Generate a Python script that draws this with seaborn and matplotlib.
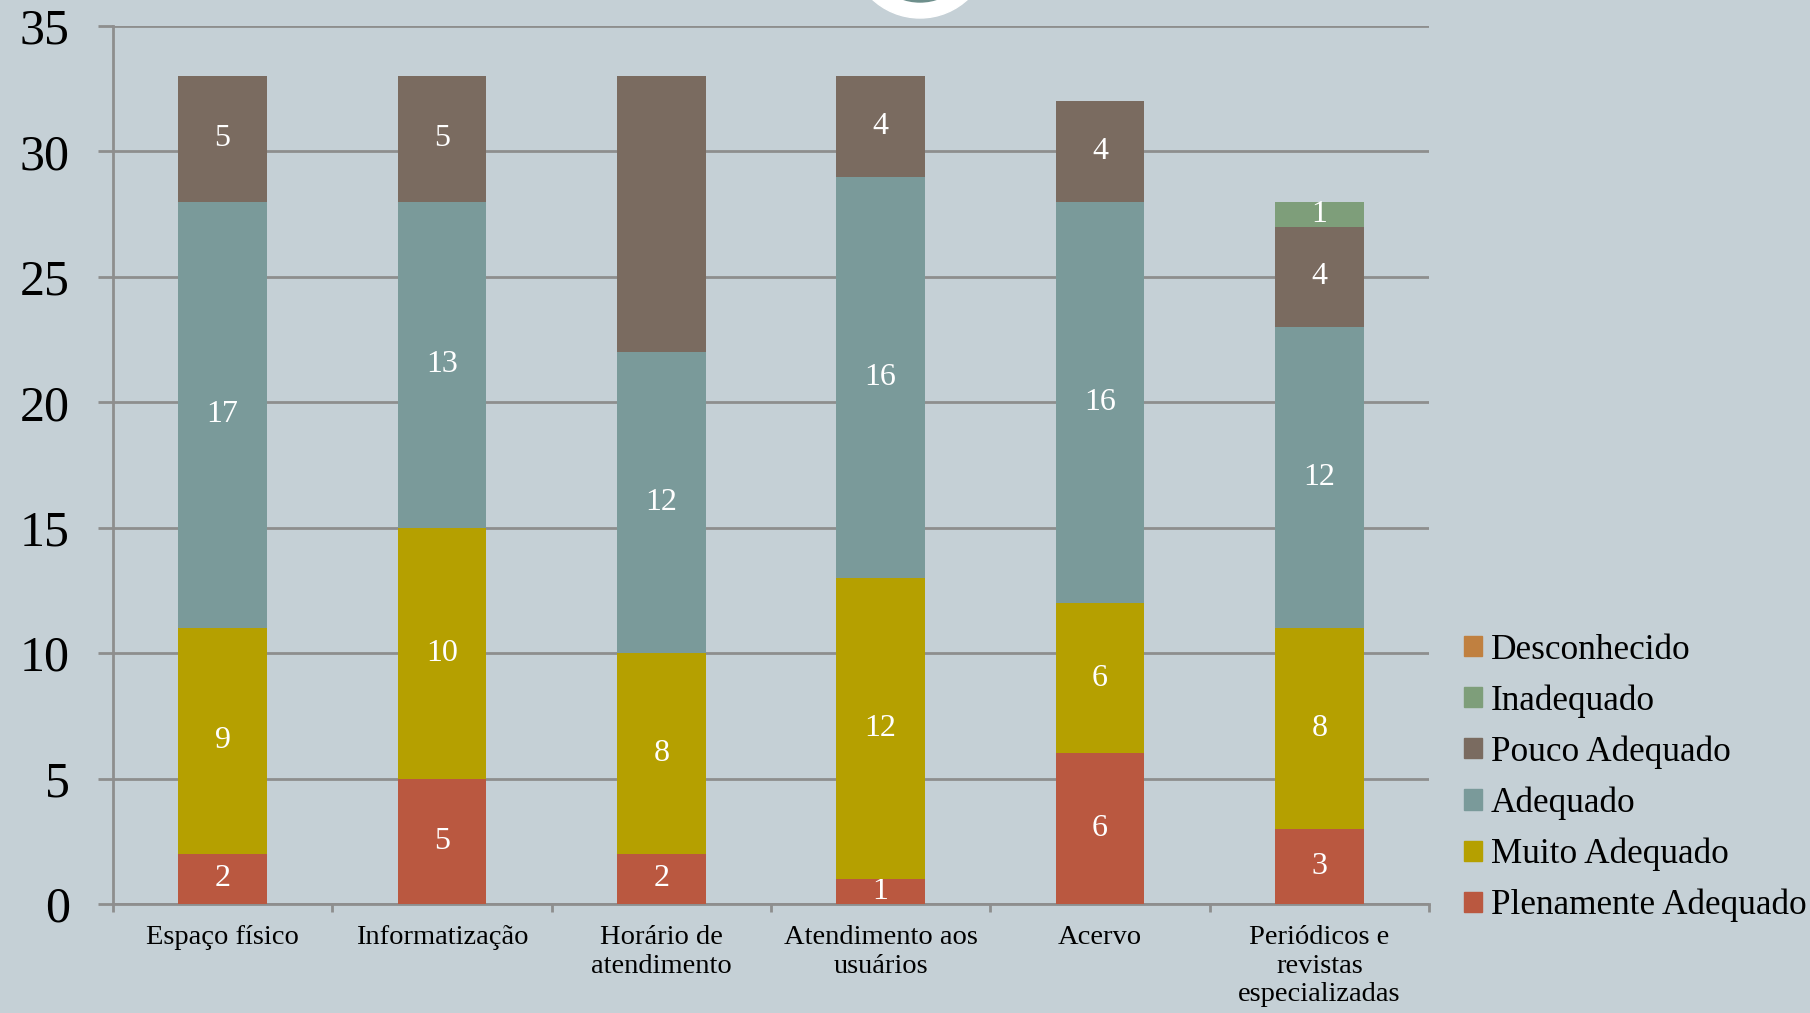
import numpy as np
import matplotlib
matplotlib.use("Agg")
import matplotlib.pyplot as plt
from matplotlib.patches import Circle
from matplotlib.ticker import FixedLocator
import seaborn as sns

# categories and series (bottom to top)
categories = ["Espaço físico", "Informatização", "Horário de\natendimento",
              "Atendimento aos\nusuários", "Acervo",
              "Periódicos e\nrevistas\nespecializadas"]
plenamente = [2, 5, 2, 1, 6, 3]
muito = [9, 10, 8, 12, 6, 8]
adequado = [17, 13, 12, 16, 16, 12]
pouco = [5, 5, 11, 4, 4, 4]
inadequado = [0, 0, 0, 0, 0, 1]
desconhecido = [0, 0, 0, 0, 0, 0]

series_names = ["Plenamente Adequado", "Muito Adequado", "Adequado",
                "Pouco Adequado", "Inadequado", "Desconhecido"]
series_values = [plenamente, muito, adequado, pouco, inadequado, desconhecido]
colors = ["#BA5840", "#B5A000", "#7A9A9A", "#7A6B60", "#7E9E7A", "#C08040"]
# the data label for Horário / Pouco Adequado is not shown in the original
hidden = {("Pouco Adequado", 2)}

y_ticks = [0, 5, 10, 15, 20, 25, 30, 35]

bg = "#C5D0D6"
grid_c = "#8E8E8E"

sns.set_theme(style="white")
plt.rcParams["font.family"] = ["Liberation Serif", "DejaVu Serif"]
plt.rcParams["text.color"] = "black"
plt.rcParams["xtick.labelcolor"] = "black"
plt.rcParams["ytick.labelcolor"] = "black"

fig = plt.figure(figsize=(18.1, 10.13), dpi=100, facecolor=bg)
ax = fig.add_axes([0.0624, 0.1076, 0.7271, 0.8667])
ax.set_facecolor(bg)

# decorative circle at the top
fig.patches.append(Circle((920, 1013 + 52), 70, transform=None, color="white", zorder=0))
fig.patches.append(Circle((920, 1013 + 52), 54, transform=None, color="#6E8F8C", zorder=0))

bottom = np.zeros(len(categories))
handles = []
for name, vals, col in zip(series_names, series_values, colors):
    sns.barplot(x=categories, y=vals, bottom=bottom, color=col, width=0.405,
                ax=ax, saturation=1, linewidth=0, zorder=3)
    cont = ax.containers[-1]
    labels = [("" if (v == 0 or (name, i) in hidden) else str(v)) for i, v in enumerate(vals)]
    ax.bar_label(cont, labels=labels, label_type="center", color="white", fontsize=23)
    handles.append(plt.Rectangle((0, 0), 1, 1, color=col))
    bottom = bottom + np.array(vals)

ax.set_ylim(0, 35)
ax.set_xlim(-0.5, len(categories) - 0.5)
ax.set_yticks(y_ticks)
ax.yaxis.grid(True, color=grid_c, linewidth=2)
ax.set_axisbelow(True)
for s in ["top", "right"]:
    ax.spines[s].set_visible(False)
for s in ["left", "bottom"]:
    ax.spines[s].set_color(grid_c)
    ax.spines[s].set_linewidth(2)

ax.tick_params(axis="y", length=11, width=2, color=grid_c, direction="out",
               pad=20, labelsize=36, left=True)
ax.tick_params(axis="x", which="major", length=0, pad=15, labelsize=20.5)
ax.xaxis.set_minor_locator(FixedLocator(np.arange(-0.5, len(categories), 1)))
ax.tick_params(axis="x", which="minor", length=6, width=2, color=grid_c,
               direction="out", bottom=True)
for t in ax.get_xticklabels():
    t.set_linespacing(1.2)
    t.set_verticalalignment("top")
ax.set_xlabel("")
ax.set_ylabel("")

fig.legend(handles[::-1], series_names[::-1], loc="center left",
           bbox_to_anchor=(0.809, 0.232), frameon=False, fontsize=25.4,
           handlelength=0.5, handleheight=0.5, handletextpad=0.25,
           labelspacing=0.5, borderpad=0, borderaxespad=0)

fig.savefig("out.png", dpi=100, facecolor=bg)
